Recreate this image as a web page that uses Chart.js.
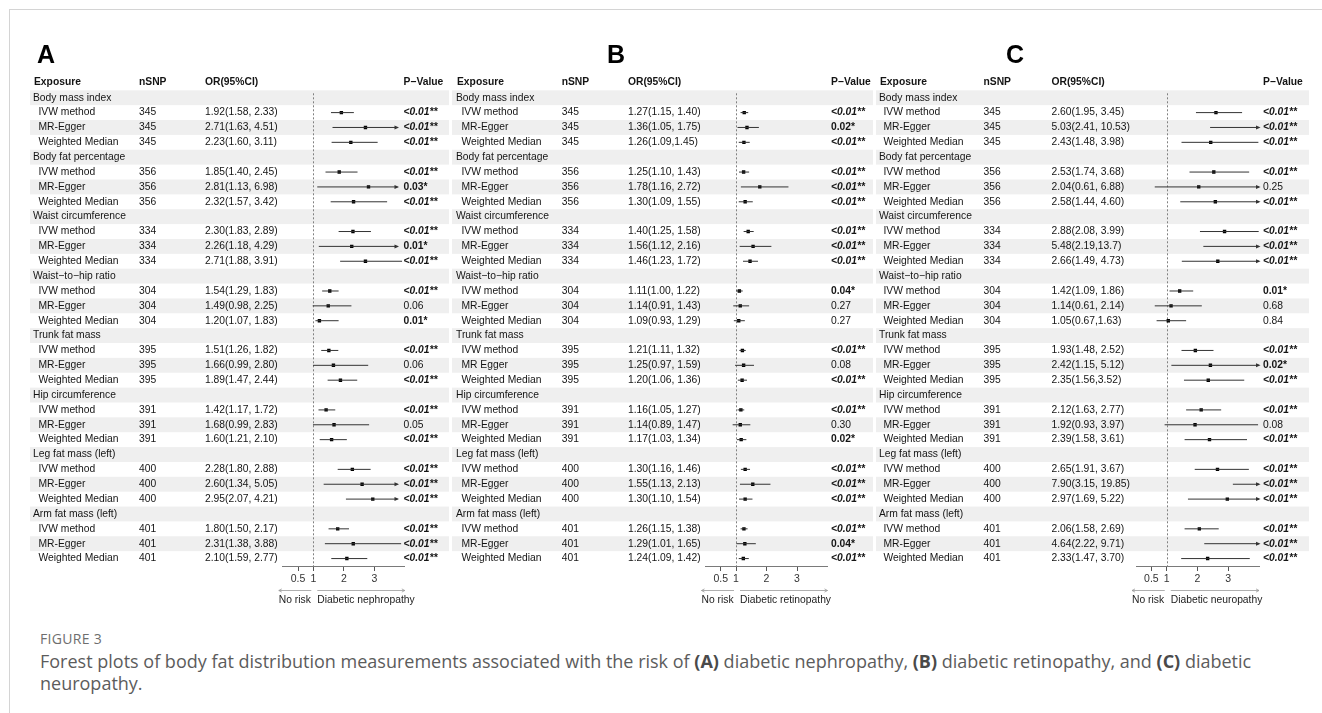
<!DOCTYPE html>
<html><head><meta charset="utf-8">
<script src="https://cdn.jsdelivr.net/npm/chart.js@4.4.1/dist/chart.umd.min.js"></script>
<style>
html,body{margin:0;padding:0;background:#fff;width:1322px;height:713px;overflow:hidden;}
#frame{position:absolute;left:9px;top:9px;width:1320px;height:710px;border-top:1px solid #d4d4d4;border-left:1px solid #d4d4d4;}
canvas{position:absolute;left:0;top:0;}
#fig{position:absolute;left:40px;top:629px;font-family:"Open Sans";font-size:14px;line-height:20px;color:#6e6e6e;letter-spacing:0.3px;}
#cap{position:absolute;left:40px;top:650px;font-family:"Open Sans";font-size:18px;line-height:22px;color:#5c5c5c;white-space:nowrap;}
#cap b{color:#4a4a4a;}
</style></head><body>
<div id="frame"></div>
<canvas id="cA" width="1322" height="620"></canvas>
<canvas id="cB" width="1322" height="620"></canvas>
<canvas id="cC" width="1322" height="620"></canvas>
<div id="fig">FIGURE 3</div>
<div id="cap">Forest plots of body fat distribution measurements associated with the risk of <b>(A)</b> diabetic nephropathy, <b>(B)</b> diabetic retinopathy, and <b>(C)</b> diabetic<br>neuropathy.</div>
<script>
// ---------- data ----------
const groups = ["Body mass index","Body fat percentage","Waist circumference","Waist\u2212to\u2212hip ratio","Trunk fat mass","Hip circumference","Leg fat mass (left)","Arm fat mass (left)"];
const methods = ["IVW method","MR-Egger","Weighted Median"];
const nSNP = [345,356,334,304,395,391,400,401];
const xTicks = [0.5,1,2,3];
const headers = ["Exposure","nSNP","OR(95%CI)","P\u2212Value"];

// Panel A: diabetic nephropathy (per group: IVW, MR-Egger, Weighted Median)
const orA = [1.92,2.71,2.23, 1.85,2.81,2.32, 2.30,2.26,2.71, 1.54,1.49,1.20, 1.51,1.66,1.89, 1.42,1.68,1.60, 2.28,2.60,2.95, 1.80,2.31,2.10];
const loA = [1.58,1.63,1.60, 1.40,1.13,1.57, 1.83,1.18,1.88, 1.29,0.98,1.07, 1.26,0.99,1.47, 1.17,0.99,1.21, 1.80,1.34,2.07, 1.50,1.38,1.59];
const hiA = [2.33,4.51,3.11, 2.45,6.98,3.42, 2.89,4.29,3.91, 1.83,2.25,1.83, 1.82,2.80,2.44, 1.72,2.83,2.10, 2.88,5.05,4.21, 2.17,3.88,2.77];
const pA = ["<0.01**","<0.01**","<0.01**","<0.01**","0.03*","<0.01**","<0.01**","0.01*","<0.01**","<0.01**","0.06","0.01*","<0.01**","0.06","<0.01**","<0.01**","0.05","<0.01**","<0.01**","<0.01**","<0.01**","<0.01**","<0.01**","<0.01**"];
const txtA = ["1.92(1.58, 2.33)","2.71(1.63, 4.51)","2.23(1.60, 3.11)","1.85(1.40, 2.45)","2.81(1.13, 6.98)","2.32(1.57, 3.42)","2.30(1.83, 2.89)","2.26(1.18, 4.29)","2.71(1.88, 3.91)","1.54(1.29, 1.83)","1.49(0.98, 2.25)","1.20(1.07, 1.83)","1.51(1.26, 1.82)","1.66(0.99, 2.80)","1.89(1.47, 2.44)","1.42(1.17, 1.72)","1.68(0.99, 2.83)","1.60(1.21, 2.10)","2.28(1.80, 2.88)","2.60(1.34, 5.05)","2.95(2.07, 4.21)","1.80(1.50, 2.17)","2.31(1.38, 3.88)","2.10(1.59, 2.77)"];

// Panel B: diabetic retinopathy
const orB = [1.27,1.36,1.26, 1.25,1.78,1.30, 1.40,1.56,1.46, 1.11,1.14,1.09, 1.21,1.25,1.20, 1.16,1.14,1.17, 1.30,1.55,1.30, 1.26,1.29,1.24];
const loB = [1.15,1.05,1.09, 1.10,1.16,1.09, 1.25,1.12,1.23, 1.00,0.91,0.93, 1.11,0.97,1.06, 1.05,0.89,1.03, 1.16,1.13,1.10, 1.15,1.01,1.09];
const hiB = [1.40,1.75,1.45, 1.43,2.72,1.55, 1.58,2.16,1.72, 1.22,1.43,1.29, 1.32,1.59,1.36, 1.27,1.47,1.34, 1.46,2.13,1.54, 1.38,1.65,1.42];
const pB = ["<0.01**","0.02*","<0.01**","<0.01**","<0.01**","<0.01**","<0.01**","<0.01**","<0.01**","0.04*","0.27","0.27","<0.01**","0.08","<0.01**","<0.01**","0.30","0.02*","<0.01**","<0.01**","<0.01**","<0.01**","0.04*","<0.01**"];
const txtB = ["1.27(1.15, 1.40)","1.36(1.05, 1.75)","1.26(1.09,1.45)","1.25(1.10, 1.43)","1.78(1.16, 2.72)","1.30(1.09, 1.55)","1.40(1.25, 1.58)","1.56(1.12, 2.16)","1.46(1.23, 1.72)","1.11(1.00, 1.22)","1.14(0.91, 1.43)","1.09(0.93, 1.29)","1.21(1.11, 1.32)","1.25(0.97, 1.59)","1.20(1.06, 1.36)","1.16(1.05, 1.27)","1.14(0.89, 1.47)","1.17(1.03, 1.34)","1.30(1.16, 1.46)","1.55(1.13, 2.13)","1.30(1.10, 1.54)","1.26(1.15, 1.38)","1.29(1.01, 1.65)","1.24(1.09, 1.42)"];

// Panel C: diabetic neuropathy
const orC = [2.60,5.03,2.43, 2.53,2.04,2.58, 2.88,5.48,2.66, 1.42,1.14,1.05, 1.93,2.42,2.35, 2.12,1.92,2.39, 2.65,7.90,2.97, 2.06,4.64,2.33];
const loC = [1.95,2.41,1.48, 1.74,0.61,1.44, 2.08,2.19,1.49, 1.09,0.61,0.67, 1.48,1.15,1.56, 1.63,0.93,1.58, 1.91,3.15,1.69, 1.58,2.22,1.47];
const hiC = [3.45,10.53,3.98, 3.68,6.88,4.60, 3.99,13.7,4.73, 1.86,2.14,1.63, 2.52,5.12,3.52, 2.77,3.97,3.61, 3.67,19.85,5.22, 2.69,9.71,3.70];
const pC = ["<0.01**","<0.01**","<0.01**","<0.01**","0.25","<0.01**","<0.01**","<0.01**","<0.01**","0.01*","0.68","0.84","<0.01**","0.02*","<0.01**","<0.01**","0.08","<0.01**","<0.01**","<0.01**","<0.01**","<0.01**","<0.01**","<0.01**"];
const txtC = ["2.60(1.95, 3.45)","5.03(2.41, 10.53)","2.43(1.48, 3.98)","2.53(1.74, 3.68)","2.04(0.61, 6.88)","2.58(1.44, 4.60)","2.88(2.08, 3.99)","5.48(2.19,13.7)","2.66(1.49, 4.73)","1.42(1.09, 1.86)","1.14(0.61, 2.14)","1.05(0.67,1.63)","1.93(1.48, 2.52)","2.42(1.15, 5.12)","2.35(1.56,3.52)","2.12(1.63, 2.77)","1.92(0.93, 3.97)","2.39(1.58, 3.61)","2.65(1.91, 3.67)","7.90(3.15, 19.85)","2.97(1.69, 5.22)","2.06(1.58, 2.69)","4.64(2.22, 9.71)","2.33(1.47, 3.70)"];

const outcomes = ["Diabetic nephropathy","Diabetic retinopathy","Diabetic neuropathy"];
const noRisk = "No risk";

// ---------- layout ----------
const W = 1322, H = 620, NROWS = groups.length * 4, XMAX = 4;
const FONT = '"Liberation Sans", Arial, sans-serif';
const FS = 10.3;
function methodNames(panel){ const a=[]; groups.forEach(()=>methods.forEach(m=>a.push(m))); if(panel==='B') a[13]='MR Egger'; return a; }

const panels = [
 {letter:'A', id:'cA', letterX:37, x0:282.8, x4:404.8, band:[30,449], gx:33, mx:38.5, nx:139, cx:205, px:403.5, arrowEnd:3.76, outcome:outcomes[0], or:orA, lo:loA, hi:hiA, p:pA, txt:txtA},
 {letter:'B', id:'cB', letterX:607, x0:705.5, x4:827.5, band:[452,873], gx:456, mx:461.5, nx:561.7, cx:628, px:831, arrowEnd:3.76, outcome:outcomes[1], or:orB, lo:loB, hi:hiB, p:pB, txt:txtB},
 {letter:'C', id:'cC', letterX:1006, x0:1136, x4:1259, band:[876,1309], gx:879, mx:883.5, nx:983.5, cx:1051.5, px:1263, arrowEnd:4.0, outcome:outcomes[2], or:orC, lo:loC, hi:hiC, p:pC, txt:txtC}
];
const rowOf = k => Math.floor(k/3)*4 + 1 + (k%3);

function pFont(p){
  if(p.startsWith('<')) return 'italic bold ' + FS + 'px ' + FONT;
  if(p.includes('*')) return 'bold ' + FS + 'px ' + FONT;
  return FS + 'px ' + FONT;
}

function makePlugin(P){
  const names = methodNames(P.letter);
  return {
    id: 'forest' + P.letter,
    beforeDraw(chart){
      const {ctx} = chart, ys = chart.scales.y;
      const h = ys.getPixelForValue(1) - ys.getPixelForValue(0);
      ctx.save(); ctx.fillStyle = '#efefef';
      for(let r=0;r<NROWS;r+=2){ const y = ys.getPixelForValue(r); ctx.fillRect(P.band[0], y-h/2, P.band[1]-P.band[0], h); }
      ctx.restore();
    },
    beforeDatasetsDraw(chart){
      const {ctx, chartArea} = chart, xs = chart.scales.x;
      const x = Math.round(xs.getPixelForValue(1)) + 0.5;
      ctx.save(); ctx.strokeStyle = '#808080'; ctx.lineWidth = 1; ctx.setLineDash([2,2]);
      ctx.beginPath(); ctx.moveTo(x, chartArea.top + 3); ctx.lineTo(x, chartArea.bottom); ctx.stroke(); ctx.restore();
    },
    afterDatasetsDraw(chart){
      const {ctx} = chart, xs = chart.scales.x, ys = chart.scales.y;
      ctx.save(); ctx.fillStyle = '#333';
      P.hi.forEach((hv,k)=>{
        if(hv <= XMAX) return;
        const x = xs.getPixelForValue(P.arrowEnd), y = ys.getPixelForValue(rowOf(k));
        ctx.beginPath(); ctx.moveTo(x+1.5, y); ctx.lineTo(x-3, y-2); ctx.lineTo(x-3, y+2); ctx.closePath(); ctx.fill();
      });
      ctx.restore();
    },
    afterDraw(chart){
      const {ctx, chartArea} = chart, xs = chart.scales.x, ys = chart.scales.y;
      ctx.save();
      ctx.fillStyle = '#000';
      ctx.textBaseline = 'alphabetic'; ctx.textAlign = 'left';
      ctx.font = 'bold 25px ' + FONT;
      ctx.fillText(P.letter, P.letterX, 63);
      ctx.fillStyle = '#141414';
      ctx.textBaseline = 'middle';
      // header
      const hy = ys.getPixelForValue(-1) - 0.5;
      ctx.font = 'bold ' + FS + 'px ' + FONT;
      ctx.fillText(headers[0], P.gx + 1, hy);
      ctx.fillText(headers[1], P.nx, hy);
      ctx.fillText(headers[2], P.cx, hy);
      ctx.fillText(headers[3], P.px, hy);
      // rows
      groups.forEach((g,gi)=>{
        ctx.font = FS + 'px ' + FONT;
        ctx.fillText(g, P.gx, ys.getPixelForValue(gi*4));
        for(let m=0;m<3;m++){
          const k = gi*3+m, y = ys.getPixelForValue(rowOf(k));
          ctx.font = FS + 'px ' + FONT;
          ctx.fillText(names[k], P.mx, y);
          ctx.fillText(String(nSNP[gi]), P.nx, y);
          ctx.fillText(P.txt[k], P.cx, y);
          ctx.font = pFont(P.p[k]);
          ctx.fillText(P.p[k], P.px, y);
        }
      });
      // direction arrows under the axis
      const x0 = xs.getPixelForValue(0), x1 = xs.getPixelForValue(1), x4 = xs.getPixelForValue(XMAX);
      const ay = chartArea.bottom + 24.5;
      ctx.strokeStyle = '#9a9a9a'; ctx.lineWidth = 0.8;
      ctx.beginPath();
      ctx.moveTo(x0-4, ay); ctx.lineTo(x1-2, ay);
      ctx.moveTo(x0-1, ay-1.6); ctx.lineTo(x0-4, ay); ctx.lineTo(x0-1, ay+1.6);
      ctx.moveTo(x1+4, ay); ctx.lineTo(x4, ay);
      ctx.moveTo(x4-3, ay-1.6); ctx.lineTo(x4, ay); ctx.lineTo(x4-3, ay+1.6);
      ctx.stroke();
      ctx.fillStyle = '#222';
      ctx.font = FS + 'px ' + FONT;
      ctx.fillText(noRisk, x0-4, ay + 9.5);
      ctx.fillText(P.outcome, x1+4, ay + 9.5);
      ctx.restore();
    }
  };
}

panels.forEach(P=>{
  const ci = [], pts = [];
  P.or.forEach((v,k)=>{
    const r = rowOf(k);
    const end = P.hi[k] > XMAX ? P.arrowEnd : P.hi[k];
    ci.push({x:P.lo[k], y:r}, {x:end, y:r}, {x:end, y:null});
    pts.push({x:v, y:r});
  });
  new Chart(document.getElementById(P.id), {
    type: 'scatter',
    data: { datasets: [
      { data: ci, showLine: true, spanGaps: false, borderColor: '#333', borderWidth: 1, pointRadius: 0, pointHoverRadius: 0 },
      { data: pts, pointStyle: 'rect', pointRadius: 2.4, pointBackgroundColor: '#000', pointBorderWidth: 0, pointHoverRadius: 2.4 }
    ]},
    options: {
      responsive: false, animation: false, events: [],
      layout: { padding: { left: P.x0, right: W - P.x4, top: 90.3, bottom: 20 } },
      plugins: { legend: { display: false }, tooltip: { enabled: false } },
      scales: {
        x: {
          type: 'linear', min: 0, max: XMAX,
          afterBuildTicks: s => { s.ticks = xTicks.map(v => ({ value: v })); },
          afterFit: s => { s.height = 34; },
          grid: { display: true, drawOnChartArea: false, drawTicks: true, tickLength: 5, color: '#555' },
          border: { display: true, color: '#7a7a7a', width: 1 },
          ticks: { color: '#333', padding: 2, maxRotation: 0, autoSkip: false, font: { family: FONT, size: 10.5 }, callback: v => String(v) }
        },
        y: { type: 'linear', min: -0.5, max: NROWS - 0.5, reverse: true, display: false }
      }
    },
    plugins: [makePlugin(P)]
  });
});
</script>
</body></html>
